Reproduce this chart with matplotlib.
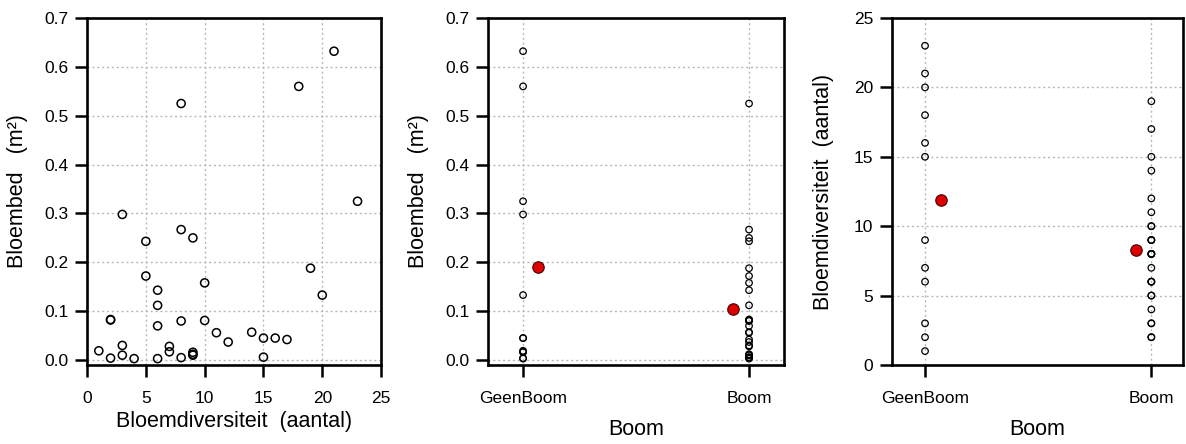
import matplotlib
matplotlib.use('Agg')
import matplotlib.pyplot as plt
import numpy as np

plt.rcParams['font.family'] = ['Liberation Sans', 'DejaVu Sans']

# per bloembed: diversiteit (aantal soorten), oppervlak (m2), boom aanwezig
diversiteit = [1, 2, 3, 6, 7, 9, 15, 16, 18, 20, 21, 23,
               2, 2, 3, 3, 4, 5, 5, 6, 6, 6, 7, 8, 8, 8, 8,
               9, 9, 9, 10, 10, 11, 12, 14, 15, 17, 19]
bloembed = [0.019, 0.004, 0.298, 0.003, 0.017, 0.016, 0.045, 0.045, 0.560, 0.133, 0.632, 0.325,
            0.083, 0.082, 0.030, 0.010, 0.003, 0.243, 0.172, 0.143, 0.112, 0.070, 0.028,
            0.525, 0.267, 0.080, 0.005, 0.250, 0.012, 0.010, 0.158, 0.081, 0.056, 0.037,
            0.057, 0.006, 0.042, 0.188]
boom = ['GeenBoom'] * 12 + ['Boom'] * 26

groepen = ['GeenBoom', 'Boom']
gem_bloembed = [0.190, 0.105]
gem_diversiteit = [11.85, 8.3]

diversiteit = np.array(diversiteit)
bloembed = np.array(bloembed)
boom = np.array(boom)
pos = np.array([groepen.index(b) + 1 for b in boom])

TICK = 12.5
LAB = 15.5
GRID = dict(color='#b8b8b8', linestyle=(0, (1.5, 2)), linewidth=1.0)


def style(ax, xlab_y):
    for s in ax.spines.values():
        s.set_linewidth(1.9)
    ax.tick_params(direction='out', length=8.5, width=1.8, labelsize=TICK)
    ax.tick_params(axis='x', pad=10)
    ax.tick_params(axis='y', pad=5)
    ax.set_axisbelow(True)
    ax.yaxis.set_label_coords(-0.235, 0.5)
    ax.xaxis.set_label_coords(0.5, xlab_y)


fig = plt.figure(figsize=(11.86, 4.44), dpi=100)
H = 0.7815
B = 0.178
ax1 = fig.add_axes([0.0734, B, 0.2479, H])
ax2 = fig.add_axes([0.4115, B, 0.2496, H])
ax3 = fig.add_axes([0.7521, B, 0.2454, H])

# 1: bloembed tegen diversiteit
ax1.scatter(diversiteit, bloembed, s=34, facecolors='none', edgecolors='black', linewidths=1.1, zorder=3)
ax1.set_xlim(0, 25)
ax1.set_ylim(-0.01, 0.7)
ax1.set_xticks(np.arange(0, 26, 5))
ax1.set_yticks(np.arange(0, 0.71, 0.1))
ax1.set_yticklabels(['%.1f' % v for v in np.arange(0, 0.71, 0.1)])
ax1.grid(True, **GRID)
ax1.set_xlabel('Bloemdiversiteit  (aantal)', fontsize=LAB, va='center')
ax1.set_ylabel('Bloembed   (m²)', fontsize=LAB, va='center')
style(ax1, -0.164)

# 2: bloembed per groep, rood = groepsgemiddelde
ax2.scatter(pos, bloembed, s=22, facecolors='none', edgecolors='black', linewidths=0.9, zorder=3)
ax2.scatter([1.066, 1.93], gem_bloembed, s=68, color='#dd0000', edgecolors='#4a0000', linewidths=0.8, zorder=4)
ax2.set_xlim(0.845, 2.155)
ax2.set_ylim(-0.01, 0.7)
ax2.set_xticks([1, 2])
ax2.set_xticklabels(groepen)
ax2.set_yticks(np.arange(0, 0.71, 0.1))
ax2.set_yticklabels(['%.1f' % v for v in np.arange(0, 0.71, 0.1)])
ax2.grid(True, **GRID)
ax2.set_xlabel('Boom', fontsize=LAB, va='center')
ax2.set_ylabel('Bloembed   (m²)', fontsize=LAB, va='center')
style(ax2, -0.187)

# 3: diversiteit per groep
ax3.scatter(pos, diversiteit, s=22, facecolors='none', edgecolors='black', linewidths=0.9, zorder=3)
ax3.scatter([1.07, 1.93], gem_diversiteit, s=68, color='#dd0000', edgecolors='#4a0000', linewidths=0.8, zorder=4)
ax3.set_xlim(0.854, 2.14)
ax3.set_ylim(0, 25)
ax3.set_xticks([1, 2])
ax3.set_xticklabels(groepen)
ax3.set_yticks(np.arange(0, 26, 5))
ax3.grid(True, **GRID)
ax3.set_xlabel('Boom', fontsize=LAB, va='center')
ax3.set_ylabel('Bloemdiversiteit  (aantal)', fontsize=LAB, va='center')
style(ax3, -0.187)

fig.savefig('out.png', dpi=100)
